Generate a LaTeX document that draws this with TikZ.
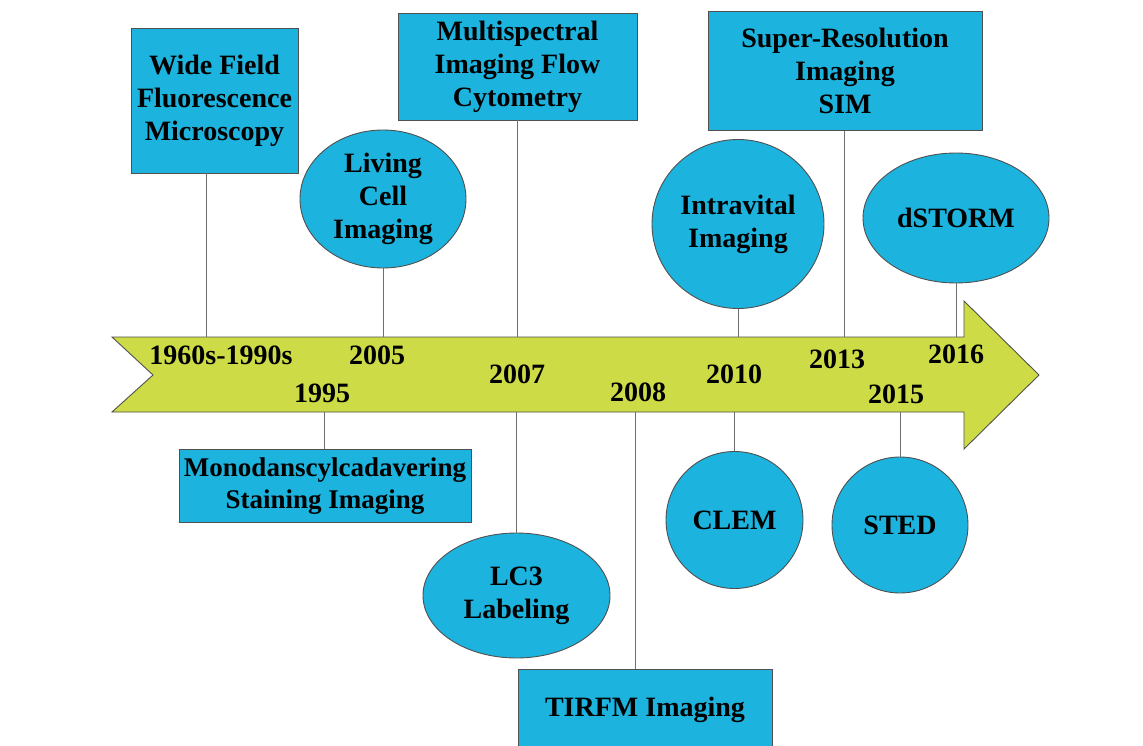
\documentclass[tikz,border=0pt]{standalone}
\usepackage{fontspec}
\setmainfont{Liberation Serif}
\usetikzlibrary{shapes.geometric}
\definecolor{boxblue}{RGB}{28,180,222}
\definecolor{arrowgreen}{RGB}{205,220,70}
\definecolor{edgegray}{RGB}{80,80,80}
\definecolor{linegray}{RGB}{110,110,110}
\tikzset{
  txt/.style={font=\fontsize{28}{33}\selectfont\bfseries, align=center, text=black},
  bluebox/.style={txt, draw=edgegray, line width=0.9pt, fill=boxblue, rectangle, inner sep=0pt},
  blueell/.style={txt, draw=edgegray, line width=0.9pt, fill=boxblue, ellipse, inner sep=0pt},
  conn/.style={draw=linegray, line width=1pt},
  year/.style={font=\fontsize{28}{33}\selectfont\bfseries, anchor=base, inner sep=0pt}
}
\begin{document}
\begin{tikzpicture}[x=1pt,y=-1pt]
\useasboundingbox (0,0) rectangle (1143,746);
% arrow
\draw[draw=edgegray, line width=0.9pt, fill=arrowgreen]
  (112,337) -- (964,337) -- (964,301) -- (1039,375) -- (964,449) -- (964,412) -- (112,412) -- (153,375) -- cycle;
% upper nodes
\node[bluebox, minimum width=167pt, minimum height=145pt] (wf) at (214.5,100.5) {Wide Field\\Fluorescence\\Microscopy};
\node[blueell, minimum width=166pt, minimum height=138pt] (lc) at (383,199) {Living\\Cell\\Imaging};
\node[bluebox, minimum width=239pt, minimum height=107pt] (ms) at (517.5,66.5) {Multispectral\\Imaging Flow\\Cytometry};
\node[blueell, minimum width=172pt, minimum height=169pt] (iv) at (738,224) {Intravital\\Imaging};
\node[bluebox, minimum width=274pt, minimum height=119pt] (sr) at (845,71) {Super-Resolution\\Imaging\\SIM};
\node[blueell, minimum width=186pt, minimum height=130pt] (ds) at (956,218) {dSTORM};
% lower nodes
\node[bluebox, minimum width=292pt, minimum height=73pt, font=\fontsize{27}{32}\selectfont\bfseries] (md) at (325,486) {Monodanscylcadavering\\Staining Imaging};
\node[blueell, minimum width=187pt, minimum height=125pt] (l3) at (516.5,595.5) {LC3\\Labeling};
\node[bluebox, minimum width=254pt, minimum height=82pt] (tf) at (645,710) {TIRFM Imaging};
\node[blueell, minimum width=137pt, minimum height=137pt] (cl) at (734.5,520) {CLEM};
\node[blueell, minimum width=136pt, minimum height=136pt] (st) at (900,525) {STED};
% connector ends on the arrow
\coordinate (a1) at (206,337);
\coordinate (a2) at (383,337);
\coordinate (a3) at (517,337);
\coordinate (a4) at (738,337);
\coordinate (a5) at (844,337);
\coordinate (a6) at (956,337);
\coordinate (b1) at (324,412);
\coordinate (b2) at (516.5,412);
\coordinate (b3) at (635,412);
\coordinate (b4) at (734.5,412);
\coordinate (b5) at (900,412);
\draw[conn] (wf.south -| a1) -- (a1);
\draw[conn] (lc.south -| a2) -- (a2);
\draw[conn] (ms.south -| a3) -- (a3);
\draw[conn] (iv.south -| a4) -- (a4);
\draw[conn] (sr.south -| a5) -- (a5);
\draw[conn] (ds.south -| a6) -- (a6);
\draw[conn] (md.north -| b1) -- (b1);
\draw[conn] (l3.north -| b2) -- (b2);
\draw[conn] (tf.north -| b3) -- (b3);
\draw[conn] (cl.north -| b4) -- (b4);
\draw[conn] (st.north -| b5) -- (b5);
% years
\node[year] (y1) at (221,364) {1960s-1990s};
\node[year] (y2) at (377,364) {2005};
\node[year] (y3) at (322,402) {1995};
\node[year] (y4) at (517,383) {2007};
\node[year] (y5) at (638,401) {2008};
\node[year] (y6) at (734,383) {2010};
\node[year] (y7) at (837,368) {2013};
\node[year] (y8) at (896,403) {2015};
\node[year] (y9) at (956,363) {2016};
\end{tikzpicture}
\end{document}
